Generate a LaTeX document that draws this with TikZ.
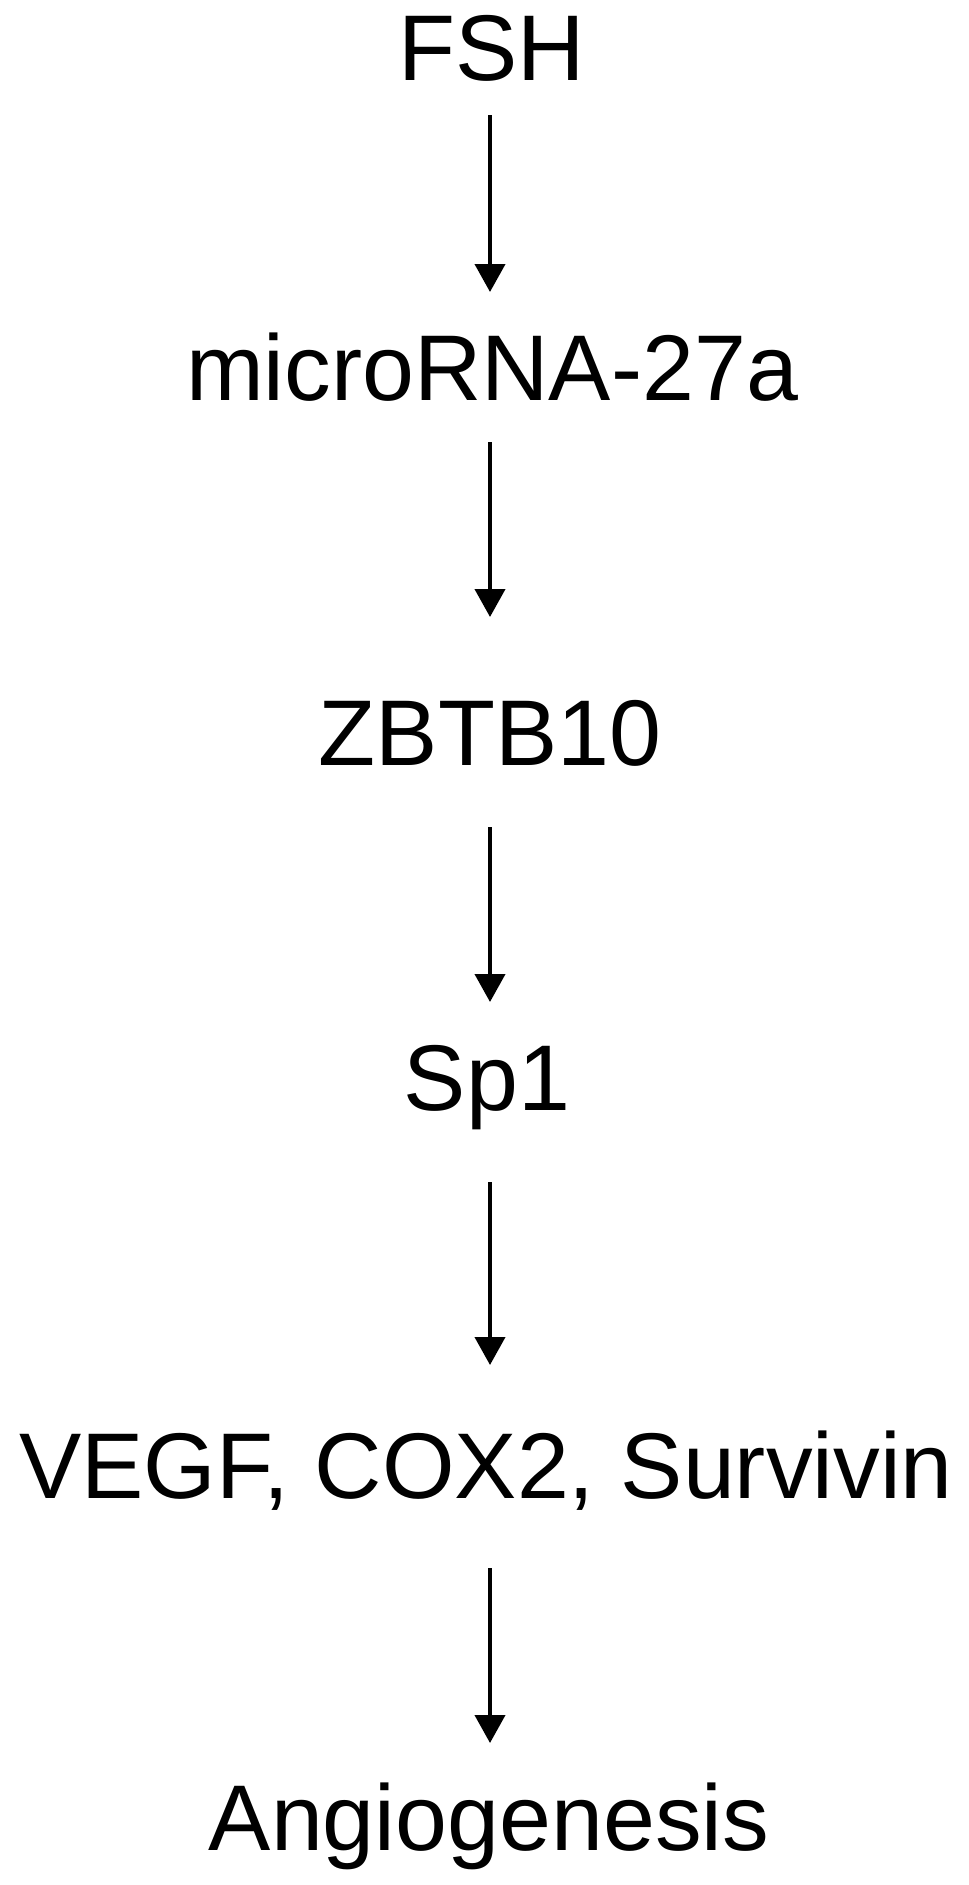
\documentclass[tikz,border=0pt]{standalone}
\usepackage{fontspec}
\setmainfont{Liberation Sans}
\usetikzlibrary{arrows.meta,calc}
\tikzset{
  lbl/.style={anchor=base, inner sep=0pt, font=\fontsize{70}{84}\selectfont},
  arr/.style={line width=3pt, -{Triangle[width=22.5pt,length=21pt]}}
}
\begin{document}
\begin{tikzpicture}[x=0.75pt,y=-0.75pt]
\fill[white] (0,0) rectangle (969,1885);
\useasboundingbox (0,0) rectangle (969,1885);
\node[lbl] (fsh) at (492,80) {FSH};
\node[lbl] (mir) at (492,400) {microRNA-27a};
\node[lbl] (zb) at (490,765) {ZBTB10};
\node[lbl] (sp) at (487,1110) {Sp1};
\node[lbl] (ve) at (486,1498) {VEGF, COX2, Survivin};
\node[lbl] (an) at (489,1850) {Angiogenesis};
\draw[arr] ($(fsh.base)+(-2,35)$) -- ($(mir.base)+(-2,-108)$);
\draw[arr] ($(mir.base)+(-2,42)$) -- ($(zb.base)+(0,-148)$);
\draw[arr] ($(zb.base)+(0,62)$) -- ($(sp.base)+(3,-108)$);
\draw[arr] ($(sp.base)+(3,72)$) -- ($(ve.base)+(4,-133)$);
\draw[arr] ($(ve.base)+(4,70)$) -- ($(an.base)+(1,-107)$);
\end{tikzpicture}
\end{document}
